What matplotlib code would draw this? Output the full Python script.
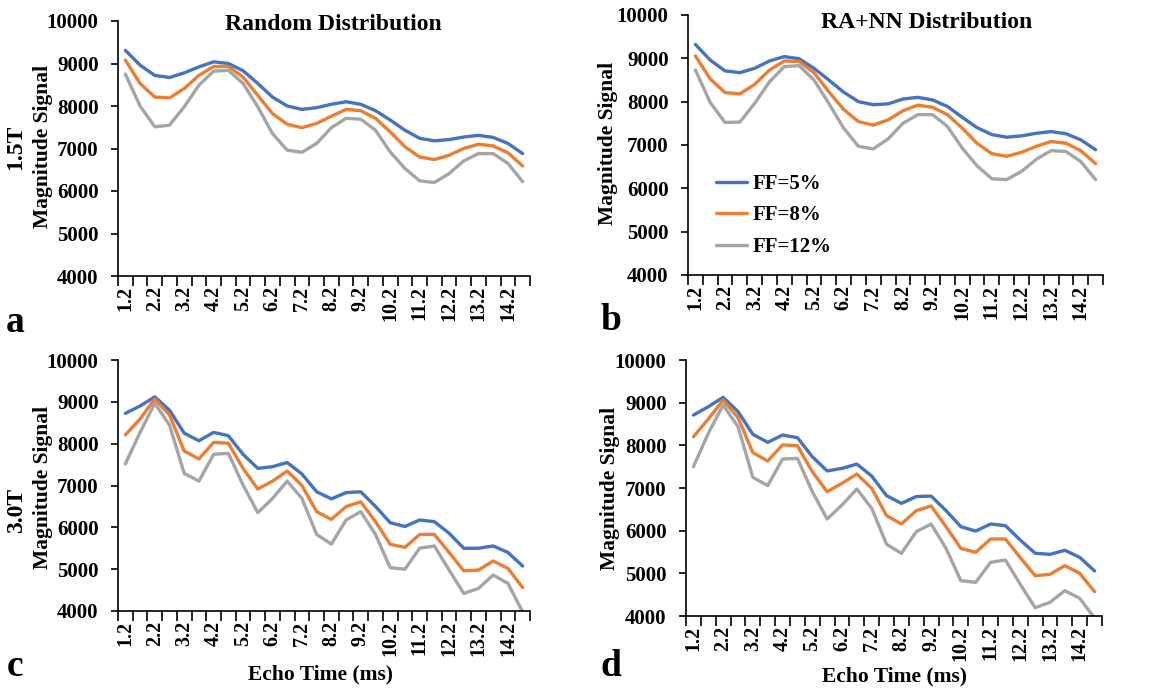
import matplotlib
matplotlib.use("Agg")
import matplotlib.pyplot as plt

W, H = 1155, 690

echo_times = ["1.2", "1.7", "2.2", "2.7", "3.2", "3.7", "4.2", "4.7", "5.2", "5.7",
              "6.2", "6.7", "7.2", "7.7", "8.2", "8.7", "9.2", "9.7", "10.2", "10.7",
              "11.2", "11.7", "12.2", "12.7", "13.2", "13.7", "14.2", "14.7"]
series_names = ["FF=5%", "FF=8%", "FF=12%"]

a_ff5 = [9310, 8960, 8720, 8670, 8780, 8920, 9040, 9000, 8830, 8530, 8210, 8000, 7920, 7960,
         8040, 8100, 8040, 7890, 7670, 7430, 7240, 7180, 7210, 7270, 7310, 7260, 7120, 6880]
a_ff8 = [9080, 8530, 8210, 8190, 8410, 8720, 8930, 8930, 8680, 8250, 7820, 7570, 7490, 7590,
         7760, 7920, 7890, 7710, 7390, 7040, 6800, 6740, 6840, 7000, 7100, 7060, 6900, 6590]
a_ff12 = [8750, 8000, 7510, 7550, 7980, 8490, 8820, 8840, 8530, 7980, 7350, 6960, 6910, 7120,
          7490, 7710, 7690, 7430, 6920, 6530, 6240, 6200, 6410, 6710, 6880, 6880, 6650, 6220]

b_ff5 = [9320, 8960, 8710, 8670, 8770, 8940, 9040, 8990, 8770, 8500, 8220, 8000, 7930, 7950,
         8060, 8100, 8040, 7890, 7640, 7400, 7240, 7180, 7210, 7270, 7310, 7260, 7120, 6890]
b_ff8 = [9055, 8525, 8210, 8180, 8400, 8730, 8940, 8925, 8670, 8230, 7820, 7540, 7460, 7580,
         7790, 7920, 7870, 7700, 7390, 7040, 6800, 6740, 6830, 6970, 7080, 7040, 6870, 6570]
b_ff12 = [8730, 7980, 7520, 7530, 7960, 8460, 8810, 8830, 8500, 7960, 7390, 6970, 6910, 7140,
          7500, 7700, 7700, 7430, 6930, 6520, 6220, 6200, 6390, 6670, 6870, 6850, 6620, 6200]

c_ff5 = [8725, 8900, 9120, 8800, 8250, 8070, 8270, 8190, 7745, 7410, 7450, 7550, 7275, 6850,
         6680, 6830, 6850, 6500, 6110, 6020, 6175, 6135, 5860, 5500, 5500, 5555, 5400, 5075]
c_ff8 = [8210, 8590, 9070, 8685, 7825, 7635, 8030, 8010, 7410, 6915, 7105, 7345, 7000, 6375,
         6190, 6495, 6610, 6135, 5595, 5520, 5830, 5830, 5400, 4960, 4980, 5195, 5020, 4560]
c_ff12 = [7515, 8270, 8965, 8445, 7290, 7105, 7745, 7770, 7010, 6350, 6690, 7105, 6690, 5830,
          5600, 6175, 6375, 5830, 5035, 5000, 5500, 5555, 4980, 4420, 4540, 4860, 4660, 3980]

d_ff5 = [8710, 8905, 9125, 8790, 8258, 8070, 8242, 8180, 7734, 7400, 7460, 7560, 7280, 6820,
         6640, 6800, 6810, 6470, 6094, 5990, 6156, 6117, 5780, 5470, 5445, 5540, 5375, 5055]
d_ff8 = [8200, 8617, 9060, 8650, 7830, 7633, 8010, 7992, 7383, 6914, 7110, 7328, 6992, 6352,
         6156, 6470, 6578, 6094, 5586, 5492, 5805, 5805, 5367, 4945, 4977, 5180, 5000, 4570]
d_ff12 = [7500, 8281, 8945, 8437, 7250, 7055, 7680, 7695, 6914, 6273, 6600, 6977, 6523, 5680,
          5470, 5977, 6156, 5586, 4828, 4789, 5258, 5312, 4742, 4195, 4320, 4594, 4414, 3950]

colors = ["#4472C4", "#ED7D31", "#A5A5A5"]
FONT = "Liberation Serif"
plt.rcParams["font.family"] = FONT
plt.rcParams["font.weight"] = "bold"

fig = plt.figure(figsize=(W / 100, H / 100), dpi=100)

def box(l, t, r, b):
    return [l / W, 1 - b / H, (r - l) / W, (b - t) / H]

panels = [
    (box(118, 21, 530, 276), [a_ff5, a_ff8, a_ff12]),
    (box(688, 15, 1103, 275), [b_ff5, b_ff8, b_ff12]),
    (box(118, 360, 530, 611), [c_ff5, c_ff8, c_ff12]),
    (box(686, 360, 1102, 616), [d_ff5, d_ff8, d_ff12]),
]

axes = []
for rect, data in panels:
    ax = fig.add_axes(rect)
    x = list(range(len(echo_times)))
    for vals, col, name in zip(data, colors, series_names):
        ax.plot(x, vals, color=col, lw=2.4, solid_joinstyle="round",
                solid_capstyle="round", label=name)
    ax.set_xlim(-0.5, len(echo_times) - 0.5)
    ax.set_ylim(4000, 10000)
    ax.set_yticks(range(4000, 10001, 1000))
    ax.set_xticks(x[::2])
    ax.set_xticklabels(echo_times[::2], rotation=90, fontsize=14.5, fontweight="bold")
    ax.set_xticks([i - 0.5 for i in range(len(echo_times) + 1)], minor=True)
    ax.set_yticklabels([str(v) for v in range(4000, 10001, 1000)], fontsize=15,
                       fontweight="bold")
    ax.tick_params(axis="x", which="major", length=0, pad=7)
    ax.tick_params(axis="x", which="minor", length=7, width=1.2, direction="out")
    ax.tick_params(axis="y", length=5, width=1.2, pad=9)
    for s in ["top", "right"]:
        ax.spines[s].set_visible(False)
    for s in ["left", "bottom"]:
        ax.spines[s].set_linewidth(1.2)
    axes.append(ax)

def ftext(x, y, s, **kw):
    fig.text(x / W, 1 - y / H, s, ha="center", va="center", fontweight="bold", **kw)

ftext(333, 24, "Random Distribution", fontsize=17)
ftext(927, 22, "RA+NN Distribution", fontsize=17)
for (xx, yy) in [(43, 146), (608, 143), (43, 487), (610, 488)]:
    ftext(xx, yy, "Magnitude Signal", fontsize=15.5, rotation=90)
ftext(16, 147, "1.5T", fontsize=17, rotation=90)
ftext(17, 510, "3.0T", fontsize=17, rotation=90)
ftext(320, 674, "Echo Time (ms)", fontsize=15.5)
ftext(895, 676, "Echo Time (ms)", fontsize=15.5)
ftext(15, 322, "a", fontsize=27)
ftext(611, 320, "b", fontsize=27)
ftext(15, 667, "c", fontsize=27)
ftext(611, 667, "d", fontsize=27)

leg = axes[1].legend(loc="upper left", bbox_to_anchor=(716 / W, 1 - 174 / H),
                     bbox_transform=fig.transFigure, frameon=False, borderpad=0,
                     borderaxespad=0, handlelength=1.5, handletextpad=0.25,
                     labelspacing=0.55, prop={"family": FONT, "weight": "bold", "size": 15})

fig.savefig("out.png", dpi=100)
